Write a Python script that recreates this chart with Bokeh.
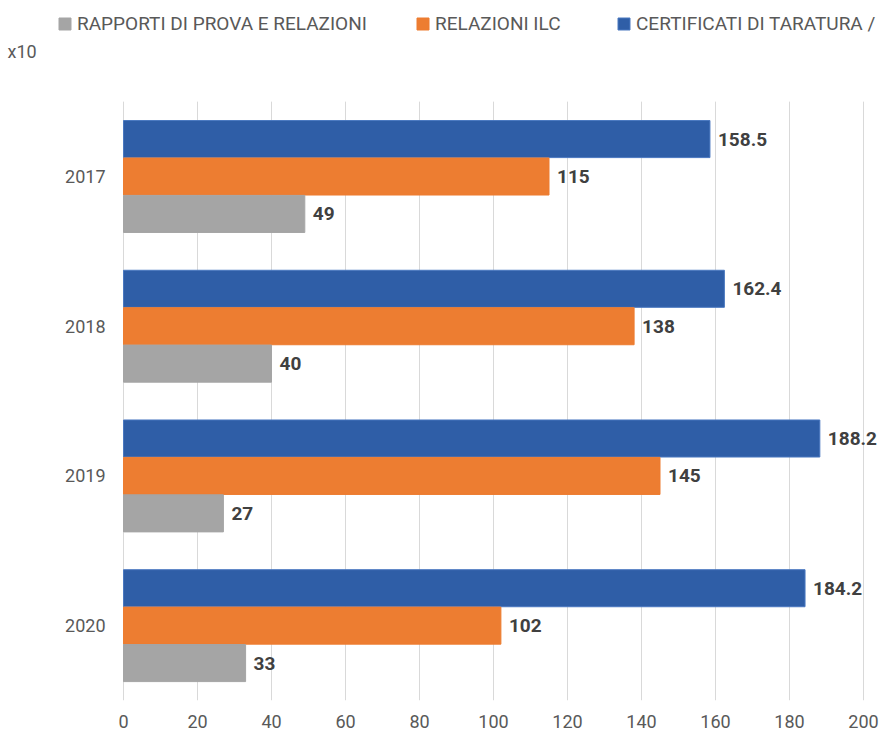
from bokeh.plotting import figure
from bokeh.models import ColumnDataSource, Range1d, Legend, LegendItem, Label
from bokeh.transform import dodge
from bokeh.core.properties import value
from bokeh.embed import file_html
from bokeh.resources import INLINE

years = ["2017", "2018", "2019", "2020"]
certificati = [158.5, 162.4, 188.2, 184.2]
relazioni_ilc = [115, 138, 145, 102]
rapporti = [49, 40, 27, 33]
x_ticks = [0, 20, 40, 60, 80, 100, 120, 140, 160, 180, 200]
series_names = ["RAPPORTI DI PROVA E RELAZIONI", "RELAZIONI ILC", "CERTIFICATI DI TARATURA /"]
unit_note = "x10"

FONT = "Roboto"
GRAY_TXT = "#595959"
n = len(years)
ypos = [n - 0.5 - i for i in range(n)]  # 2017 on top

def fmt(v):
    return f"{v:g}"

src = ColumnDataSource(dict(
    y=ypos,
    cert=certificati, ilc=relazioni_ilc, rap=rapporti,
    cert_l=[fmt(v) for v in certificati],
    ilc_l=[fmt(v) for v in relazioni_ilc],
    rap_l=[fmt(v) for v in rapporti],
))

# frame covers the whole canvas width; value 0 sits at 123px
px_per_unit_x = 3.7
zero_px = 123
px_per_cat = 149.5
frame_top_gap = 101  # px between canvas top and the category area
x_start = -zero_px / px_per_unit_x
x_end = (881 - zero_px) / px_per_unit_x
y_end = n + frame_top_gap / px_per_cat

p = figure(width=881, height=736, output_backend="svg", toolbar_location=None,
           x_range=Range1d(x_start, x_end), y_range=Range1d(0, y_end),
           min_border_left=0, min_border_right=0, min_border_top=0, min_border_bottom=36)
p.outline_line_color = None
p.background_fill_color = "white"
p.border_fill_color = "white"
p.xgrid.grid_line_color = None
p.ygrid.grid_line_color = None

# vertical grid lines limited to the category area
p.segment(x0=x_ticks, x1=x_ticks, y0=[0] * len(x_ticks), y1=[n] * len(x_ticks),
          line_color="#d9d9d9", line_width=1)

bh = 0.2475
r_cert = p.hbar(y=dodge("y", 0.25), right="cert", left=0, height=bh,
                source=src, fill_color="#2f5ea7", line_color="#4a78c0", line_width=1)
r_ilc = p.hbar(y=dodge("y", 0.0), right="ilc", left=0, height=bh,
               source=src, fill_color="#ed7d31", line_color="#ed7d31")
r_rap = p.hbar(y=dodge("y", -0.25), right="rap", left=0, height=bh,
               source=src, fill_color="#a5a5a5", line_color="#a5a5a5")

for col, lab, off in (("cert", "cert_l", 0.25), ("ilc", "ilc_l", 0.0), ("rap", "rap_l", -0.25)):
    p.text(x=col, y=dodge("y", off), text=lab, source=src,
           x_offset=8, text_baseline="middle", text_align="left",
           text_font=value(FONT), text_font_style="bold", text_font_size="19px",
           text_color="#404040")

# axes
p.xaxis.ticker = x_ticks
p.xaxis.axis_line_color = None
p.xaxis.major_tick_line_color = None
p.xaxis.minor_tick_line_color = None
p.xaxis.major_label_text_font = FONT
p.xaxis.major_label_text_font_size = "18px"
p.xaxis.major_label_text_color = GRAY_TXT
p.xaxis.major_label_standoff = 8

p.yaxis.fixed_location = 0
p.yaxis.ticker = ypos
p.yaxis.major_label_overrides = {v: y for v, y in zip(ypos, years)}
p.yaxis.axis_line_color = None
p.yaxis.major_tick_line_color = None
p.yaxis.minor_tick_line_color = None
p.yaxis.major_label_text_font = FONT
p.yaxis.major_label_text_font_size = "18px"
p.yaxis.major_label_text_color = GRAY_TXT
p.yaxis.major_label_standoff = 12

# legends (one per item, positioned individually, above the category area)
frame_h = 736 - 36
leg_bottom = frame_h - 35
for rend, name, cx in ((r_rap, series_names[0], 57), (r_ilc, series_names[1], 415), (r_cert, series_names[2], 616)):
    leg = Legend(items=[LegendItem(label=name, renderers=[rend])],
                 location=(cx, leg_bottom), orientation="horizontal",
                 glyph_width=15, glyph_height=15, label_standoff=5,
                 padding=0, margin=0, border_line_color=None,
                 background_fill_alpha=0,
                 label_text_font=FONT, label_text_font_size="19px",
                 label_text_color=GRAY_TXT, label_height=15)
    p.add_layout(leg)

p.add_layout(Label(x=(7 - zero_px) / px_per_unit_x, y=n + (frame_top_gap - 51) / px_per_cat, text=unit_note,
                   text_baseline="middle", text_align="left",
                   text_font=FONT, text_font_size="18px", text_color=GRAY_TXT))

open("out.html", "w").write(file_html(p, INLINE))
